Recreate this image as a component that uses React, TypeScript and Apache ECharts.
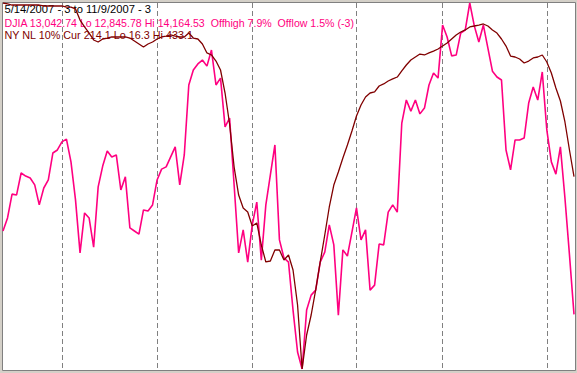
import React, { useEffect, useRef } from "react";
import * as echarts from "echarts";

// Trading calendar (categories)
const startDate = "2007-05-14";
const endDate = "2007-11-09";
const holidays = ["2007-05-28", "2007-07-04", "2007-09-03"];

function tradingDays(start: string, end: string, hol: string[]): string[] {
  const out: string[] = [];
  const d = new Date(start + "T00:00:00Z");
  const e = new Date(end + "T00:00:00Z");
  while (d <= e) {
    const iso = d.toISOString().slice(0, 10);
    const wd = d.getUTCDay();
    if (wd !== 0 && wd !== 6 && !hol.includes(iso)) {
      out.push(`${d.getUTCMonth() + 1}/${d.getUTCDate()}/${d.getUTCFullYear()}`);
    }
    d.setUTCDate(d.getUTCDate() + 1);
  }
  return out;
}

const dates = tradingDays(startDate, endDate, holidays);

// DJIA closes
const djia = [
  13343, 13390, 13476, 13473, 13552, 13541, 13534, 13509, 13437, 13498,
  13527, 13624, 13635, 13664, 13674, 13592, 13455, 13264, 13408, 13390,
  13285, 13502, 13577, 13631, 13610, 13617, 13491, 13538, 13354, 13343,
  13332, 13419, 13415, 13437, 13527, 13566, 13574, 13610, 13646, 13509,
  13617, 13869, 13923, 13945, 13959, 13937, 13995, 13869, 13894, 13718,
  13750, 13509, 13264, 13347, 13231, 13365, 13447, 13238, 13437, 13545,
  13653, 13311, 13246, 13231, 13058, 12907, 12846, 13058, 13112, 13130,
  13231, 13267, 13365, 13293, 13040, 13275, 13253, 13339, 13426, 13311,
  13347, 13130, 13148, 13296, 13293, 13411, 13437, 13411, 13732, 13815,
  13775, 13815, 13765, 13786, 13869, 13912, 13894, 14085, 14042, 13974,
  13977, 14056, 14067, 14164.53, 14082, 14024, 14085, 14002, 13919, 13898,
  13887, 13635, 13563, 13671, 13671, 13678, 13804, 13862, 13815, 13916,
  13707, 13592, 13548, 13646, 13462, 13257, 13042.74,
];

// NY new lows, 10% average (plotted inverted)
const nyNl = [
  16.3, 17.4, 18.6, 18.6, 18.6, 18.6, 18.6, 18.6, 18.6, 19.7,
  19.7, 19.7, 19.7, 19.7, 20.9, 20.9, 23.1, 35.7, 43.6, 50.5,
  58.4, 60.7, 57.3, 56.2, 55.0, 55.0, 55.0, 55.0, 56.2, 59.6,
  63.0, 66.4, 63.0, 60.7, 57.3, 55.0, 53.9, 52.7, 53.9, 55.0,
  55.0, 50.5, 56.2, 57.3, 63.0, 73.2, 75.5, 82.4, 92.6, 118.8,
  154.1, 203.1, 235.0, 249.8, 254.3, 270.3, 266.8, 291.9, 311.2, 310.1,
  297.6, 297.6, 309.0, 303.3, 320.4, 360.2, 433.1, 394.4, 371.6, 343.1,
  311.2, 280.5, 248.6, 223.6, 208.8, 192.8, 178.0, 162.1, 145.0, 132.5,
  123.3, 118.8, 117.6, 110.8, 108.5, 105.1, 102.8, 100.6, 93.7, 86.9,
  81.2, 77.8, 74.4, 75.5, 73.2, 71.0, 68.7, 65.3, 61.9, 57.3,
  52.7, 49.3, 47.0, 43.6, 42.5, 41.4, 40.2, 42.5, 47.0, 50.5,
  57.3, 65.3, 76.7, 77.8, 80.1, 84.6, 82.4, 78.9, 77.8, 75.5,
  83.5, 96.0, 113.1, 127.9, 151.8, 183.7, 214.1,
];

const titleLines = [
  "5/14/2007 - 3 to 11/9/2007 - 3",
  "DJIA 13,042.74 Lo 12,845.78 Hi 14,164.53  Offhigh 7.9%  Offlow 1.5% (-3)",
  "NY NL 10% Cur 214.1 Lo 16.3 Hi 433.1",
];

const djiaMin = 12845.78;
const djiaMax = 14164.53;
const nlMin = 16.3;
const nlMax = 433.1;

export default function App() {
  const ref = useRef<HTMLDivElement>(null);
  useEffect(() => {
    document.body.style.margin = "0";
    if (!ref.current) return;
    const chart = echarts.init(ref.current, undefined, { renderer: "svg" });
    const monthStarts = new Set<number>();
    dates.forEach((d, i) => {
      if (i > 0 && d.split("/")[0] !== dates[i - 1].split("/")[0]) monthStarts.add(i);
    });
    const font = '"Liberation Sans", Arial, sans-serif';
    chart.setOption({
      animation: false,
      backgroundColor: "#d4d0c8",
      grid: { left: 3, right: 3, top: 3, bottom: 4 },
      xAxis: {
        type: "category",
        data: dates,
        boundaryGap: false,
        axisLine: { show: false },
        axisTick: { show: false },
        axisLabel: { show: false },
        splitLine: {
          show: true,
          interval: (i: number) => monthStarts.has(i),
          lineStyle: { color: "#808080", width: 1, type: [5, 3] },
        },
      },
      yAxis: [
        { type: "value", min: djiaMin, max: djiaMax, show: false },
        { type: "value", min: nlMin, max: nlMax, inverse: true, show: false },
      ],
      series: [
        {
          type: "line",
          data: djia,
          yAxisIndex: 0,
          symbol: "none",
          lineStyle: { color: "#ff0080", width: 1.6 },
        },
        {
          type: "line",
          data: nyNl,
          yAxisIndex: 1,
          symbol: "none",
          lineStyle: { color: "#800000", width: 1.3 },
        },
      ],
      graphic: [
        {
          type: "rect",
          z: -10,
          silent: true,
          shape: { x: 2.5, y: 2.5, width: 573, height: 368 },
          style: { fill: "#ffffff", stroke: "#808080", lineWidth: 1 },
        },
        {
          type: "text",
          z: 1,
          x: 4.5,
          y: 8.6,
          style: { text: titleLines[0], fill: "#000000", font: `11.2px ${font}`, verticalAlign: "middle" },
        },
        {
          type: "text",
          z: 1,
          x: 4.5,
          y: 22.5,
          style: { text: titleLines[1], fill: "#ff0080", font: `10.6px ${font}`, verticalAlign: "middle" },
        },
        {
          type: "text",
          z: 1,
          x: 4.5,
          y: 35.3,
          style: { text: titleLines[2], fill: "#800000", font: `10.8px ${font}`, verticalAlign: "middle" },
        },
      ],
    });
    return () => chart.dispose();
  }, []);
  return <div ref={ref} style={{ width: 577, height: 373 }} />;
}
